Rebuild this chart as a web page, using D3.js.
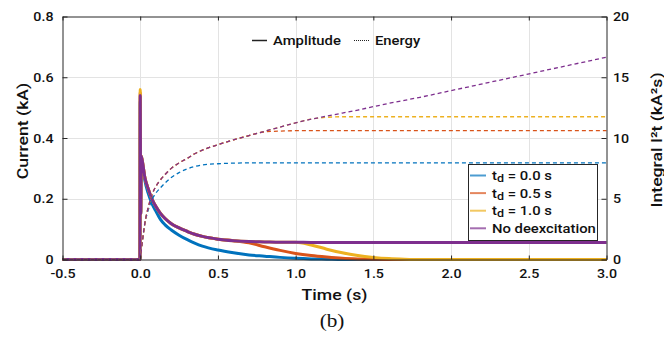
<!DOCTYPE html>
<html>
<head>
<meta charset="utf-8">
<script src="https://cdnjs.cloudflare.com/ajax/libs/d3/7.8.5/d3.min.js"></script>
<style>
  body { margin: 0; background: #fff; }
</style>
</head>
<body>
<div id="chart"></div>
<script>
// sample times (s)
var time = [-0.5, -0.002, 0, 0.003, 0.007, 0.015, 0.03, 0.05, 0.075, 0.1, 0.13, 0.16, 0.2, 0.25, 0.3, 0.35, 0.4,
            0.5, 0.6, 0.7, 0.8, 0.9, 1.0, 1.1, 1.2, 1.3, 1.4, 1.5, 1.6, 1.7, 1.8, 2.0, 3.0];

// current amplitude (kA)
var ampTd00 = [0, 0, 0.52, 0.15, 0.33, 0.31, 0.26, 0.22, 0.185, 0.16, 0.132, 0.114, 0.097, 0.08, 0.066, 0.054, 0.044,
               0.031, 0.022, 0.015, 0.011, 0.007, 0.004, 0.002, 0.001, 0, 0, 0, 0, 0, 0, 0, 0];
var ampTd05 = [0, 0, 0.55, 0.15, 0.34, 0.32, 0.27, 0.235, 0.2, 0.175, 0.152, 0.135, 0.118, 0.104, 0.093, 0.083, 0.076,
               0.067, 0.062, 0.055, 0.042, 0.03, 0.02, 0.013, 0.008, 0.004, 0.002, 0.001, 0, 0, 0, 0, 0];
var ampTd10 = [0, 0, 0.56, 0.15, 0.34, 0.32, 0.27, 0.235, 0.2, 0.175, 0.152, 0.135, 0.118, 0.104, 0.093, 0.083, 0.076,
               0.067, 0.062, 0.059, 0.058, 0.057, 0.057, 0.048, 0.034, 0.022, 0.013, 0.007, 0.003, 0.001, 0, 0, 0];
var ampNoDeex = [0, 0, 0.54, 0.15, 0.34, 0.32, 0.27, 0.235, 0.2, 0.175, 0.152, 0.135, 0.118, 0.104, 0.093, 0.083, 0.076,
                 0.067, 0.062, 0.059, 0.058, 0.057, 0.057, 0.056, 0.056, 0.056, 0.056, 0.056, 0.056, 0.056, 0.056, 0.056, 0.056];

// integral I^2t (kA^2 s)
var energyTd00 = [0, 0, 0, 0.3, 0.75, 1.6, 3.0, 4.0, 4.9, 5.45, 5.9, 6.3, 6.75, 7.15, 7.45, 7.65, 7.78,
                  7.88, 7.93, 7.95, 7.95, 7.95, 7.95, 7.95, 7.95, 7.95, 7.95, 7.95, 7.95, 7.95, 7.95, 7.95, 7.95];
var energyTd05 = [0, 0, 0, 0.3, 0.75, 1.6, 3.0, 4.2, 5.3, 6.0, 6.55, 7.0, 7.5, 7.95, 8.3, 8.7, 9.0,
                  9.45, 9.85, 10.2, 10.5, 10.57, 10.6, 10.6, 10.6, 10.6, 10.6, 10.6, 10.6, 10.6, 10.6, 10.6, 10.6];
var energyTd10 = [0, 0, 0, 0.3, 0.75, 1.6, 3.0, 4.2, 5.3, 6.0, 6.55, 7.0, 7.5, 7.95, 8.3, 8.7, 9.0,
                  9.45, 9.85, 10.2, 10.55, 10.9, 11.25, 11.55, 11.7, 11.75, 11.75, 11.75, 11.75, 11.75, 11.75, 11.75, 11.75];
var energyNoDeex = [0, 0, 0, 0.3, 0.75, 1.6, 3.0, 4.2, 5.3, 6.0, 6.55, 7.0, 7.5, 7.95, 8.3, 8.7, 9.0,
                    9.45, 9.85, 10.2, 10.55, 10.9, 11.25, 11.55, 11.8, 12.05, 12.3, 12.58, 12.85, 13.1, 13.35, 13.9, 16.65];

var legendLabels = ["td = 0.0 s", "td = 0.5 s", "td = 1.0 s", "No deexcitation"];
var seriesColors = ["#0072BD", "#D95319", "#EDB120", "#7E2F8E"];

var xTicks = [-0.5, 0, 0.5, 1.0, 1.5, 2.0, 2.5, 3.0];
var xTickLabels = ["-0.5", "0.0", "0.5", "1.0", "1.5", "2.0", "2.5", "3.0"];
var yLeftTicks = [0, 0.2, 0.4, 0.6, 0.8];
var yLeftTickLabels = ["0", "0.2", "0.4", "0.6", "0.8"];
var yRightTicks = [0, 5, 10, 15, 20];
var yRightTickLabels = ["0", "5", "10", "15", "20"];

var ampSeries = [ampTd00, ampTd05, ampTd10, ampNoDeex];
var energySeries = [energyTd00, energyTd05, energyTd10, energyNoDeex];

var W = 664, H = 345;
var sx = 1.14; // glyphs in the figure are a bit wider than tall
var plotL = 62.5, plotR = 606.5, plotT = 16.5, plotB = 259.5;

var svg = d3.select("#chart").append("svg")
    .attr("width", W)
    .attr("height", H)
    .style("font-family", "Roboto, sans-serif");

var x = d3.scaleLinear().domain([-0.5, 3.0]).range([plotL, plotR]);
var yL = d3.scaleLinear().domain([0, 0.8]).range([plotB, plotT]);
var yR = d3.scaleLinear().domain([0, 20]).range([plotB, plotT]);

// grid
var grid = svg.append("g").attr("stroke", "#e3e3e3").attr("stroke-width", 1);
grid.selectAll(".gx").data(xTicks.slice(1, -1)).enter().append("line")
    .attr("x1", function(d) { return Math.round(x(d)) + 0.5; })
    .attr("x2", function(d) { return Math.round(x(d)) + 0.5; })
    .attr("y1", plotT).attr("y2", plotB);
grid.selectAll(".gy").data(yLeftTicks.slice(1, -1)).enter().append("line")
    .attr("y1", function(d) { return Math.round(yL(d)) + 0.5; })
    .attr("y2", function(d) { return Math.round(yL(d)) + 0.5; })
    .attr("x1", plotL).attr("x2", plotR);

// amplitude lines
var ampLine = function(vals) {
    return d3.line()
        .x(function(d, i) { return x(time[i]); })
        .y(function(d) { return yL(d); })
        .curve(d3.curveMonotoneX)(vals);
};
svg.append("g").selectAll("path").data(ampSeries).enter().append("path")
    .attr("d", ampLine)
    .attr("fill", "none")
    .attr("stroke", function(d, i) { return seriesColors[i]; })
    .attr("stroke-width", 3)
    .attr("stroke-linejoin", "round");

// energy lines
var energyLine = function(vals) {
    return d3.line()
        .x(function(d, i) { return x(time[i]); })
        .y(function(d) { return yR(d); })
        .curve(d3.curveMonotoneX)(vals);
};
svg.append("g").selectAll("path").data(energySeries).enter().append("path")
    .attr("d", energyLine)
    .attr("fill", "none")
    .attr("stroke", function(d, i) { return seriesColors[i]; })
    .attr("stroke-width", 1.3)
    .attr("stroke-dasharray", "4,3");

// axes
function styleAxis(g) {
    g.attr("font-family", null).attr("font-size", null);
    g.select(".domain").attr("stroke", "#262626");
    g.selectAll(".tick line").attr("stroke", "#262626");
    g.selectAll(".tick text")
        .attr("fill", "#111")
        .style("font-size", "12.5px")
        .style("font-weight", 500);
}

var xAxis = svg.append("g")
    .attr("transform", "translate(0," + plotB + ")")
    .call(d3.axisBottom(x).tickValues(xTicks).tickSizeInner(-4).tickSizeOuter(0).tickPadding(10)
        .tickFormat(function(d, i) { return xTickLabels[i]; }))
    .call(styleAxis);
xAxis.selectAll(".tick text").attr("transform", "scale(" + sx + ",1)");

svg.append("g")
    .attr("transform", "translate(0," + plotT + ")")
    .call(d3.axisTop(x).tickValues(xTicks).tickSizeInner(-4).tickSizeOuter(0).tickFormat(""))
    .call(styleAxis);

var yAxisL = svg.append("g")
    .attr("transform", "translate(" + plotL + ",0)")
    .call(d3.axisLeft(yL).tickValues(yLeftTicks).tickSizeInner(-5).tickSizeOuter(0).tickPadding(9 / sx)
        .tickFormat(function(d, i) { return yLeftTickLabels[i]; }))
    .call(styleAxis);
yAxisL.selectAll(".tick text").attr("transform", "scale(" + sx + ",1)");

var yAxisR = svg.append("g")
    .attr("transform", "translate(" + plotR + ",0)")
    .call(d3.axisRight(yR).tickValues(yRightTicks).tickSizeInner(-5).tickSizeOuter(0).tickPadding(6.5 / sx)
        .tickFormat(function(d, i) { return yRightTickLabels[i]; }))
    .call(styleAxis);
yAxisR.selectAll(".tick text").attr("transform", "scale(" + sx + ",1)");

// axis titles
svg.append("text")
    .attr("transform", "translate(22,131) rotate(-90) scale(" + sx + ",1)")
    .attr("text-anchor", "middle")
    .attr("dy", "0.36em")
    .style("font-size", "15.5px")
    .style("font-weight", 500)
    .attr("fill", "#111")
    .text("Current (kA)");

svg.append("text")
    .attr("transform", "translate(656,140) rotate(-90) scale(" + sx + ",1)")
    .attr("text-anchor", "middle")
    .attr("dy", "0.36em")
    .style("font-size", "15.5px")
    .style("font-weight", 500)
    .attr("fill", "#111")
    .text("Integral I\u00b2t (kA\u00b2s)");

svg.append("text")
    .attr("transform", "translate(" + ((plotL + plotR) / 2) + ",300) scale(" + sx + ",1)")
    .attr("text-anchor", "middle")
    .style("font-size", "15.5px")
    .style("font-weight", 500)
    .attr("fill", "#111")
    .text("Time (s)");

// top legend (line styles)
var styleLegend = svg.append("g").style("font-size", "13px").style("font-weight", 500).attr("fill", "#111");
styleLegend.append("line")
    .attr("x1", 252).attr("x2", 267).attr("y1", 40.5).attr("y2", 40.5)
    .attr("stroke", "#222").attr("stroke-width", 1.5);
styleLegend.append("text")
    .attr("transform", "translate(273,45) scale(" + sx + ",1)")
    .text("Amplitude");
styleLegend.append("line")
    .attr("x1", 354).attr("x2", 370).attr("y1", 40.5).attr("y2", 40.5)
    .attr("stroke", "#222").attr("stroke-width", 1.2).attr("stroke-dasharray", "1,1");
styleLegend.append("text")
    .attr("transform", "translate(375,45) scale(" + sx + ",1)")
    .text("Energy");

// series legend
var legend = svg.append("g");
legend.append("rect")
    .attr("x", 468.5).attr("y", 164.5)
    .attr("width", 129).attr("height", 76)
    .attr("fill", "#fff")
    .attr("stroke", "#262626");

var rows = legend.selectAll(".row").data(legendLabels).enter().append("g")
    .attr("transform", function(d, i) { return "translate(0," + (175.5 + i * 17.6) + ")"; });
rows.append("line")
    .attr("x1", 470).attr("x2", 486)
    .attr("stroke", function(d, i) { return seriesColors[i]; })
    .attr("stroke-opacity", 0.7)
    .attr("stroke-width", 2);
rows.append("text")
    .attr("transform", "translate(492,4.6) scale(" + sx + ",1)")
    .style("font-size", "13px")
    .style("font-weight", 500)
    .attr("fill", "#111")
    .each(function(d) {
        var t = d3.select(this);
        if (d.indexOf("td") === 0) {
            t.append("tspan").text("t");
            t.append("tspan").style("font-size", "11px").attr("dy", 2).text("d");
            t.append("tspan").attr("dy", -2).text(d.slice(2));
        } else {
            t.text(d);
        }
    });

// caption
svg.append("text")
    .attr("transform", "translate(332,327) scale(1.18,1)")
    .attr("text-anchor", "middle")
    .style("font-family", "'Liberation Serif', 'Times New Roman', serif")
    .style("font-size", "18px")
    .attr("fill", "#111")
    .text("(b)");
</script>
</body>
</html>
